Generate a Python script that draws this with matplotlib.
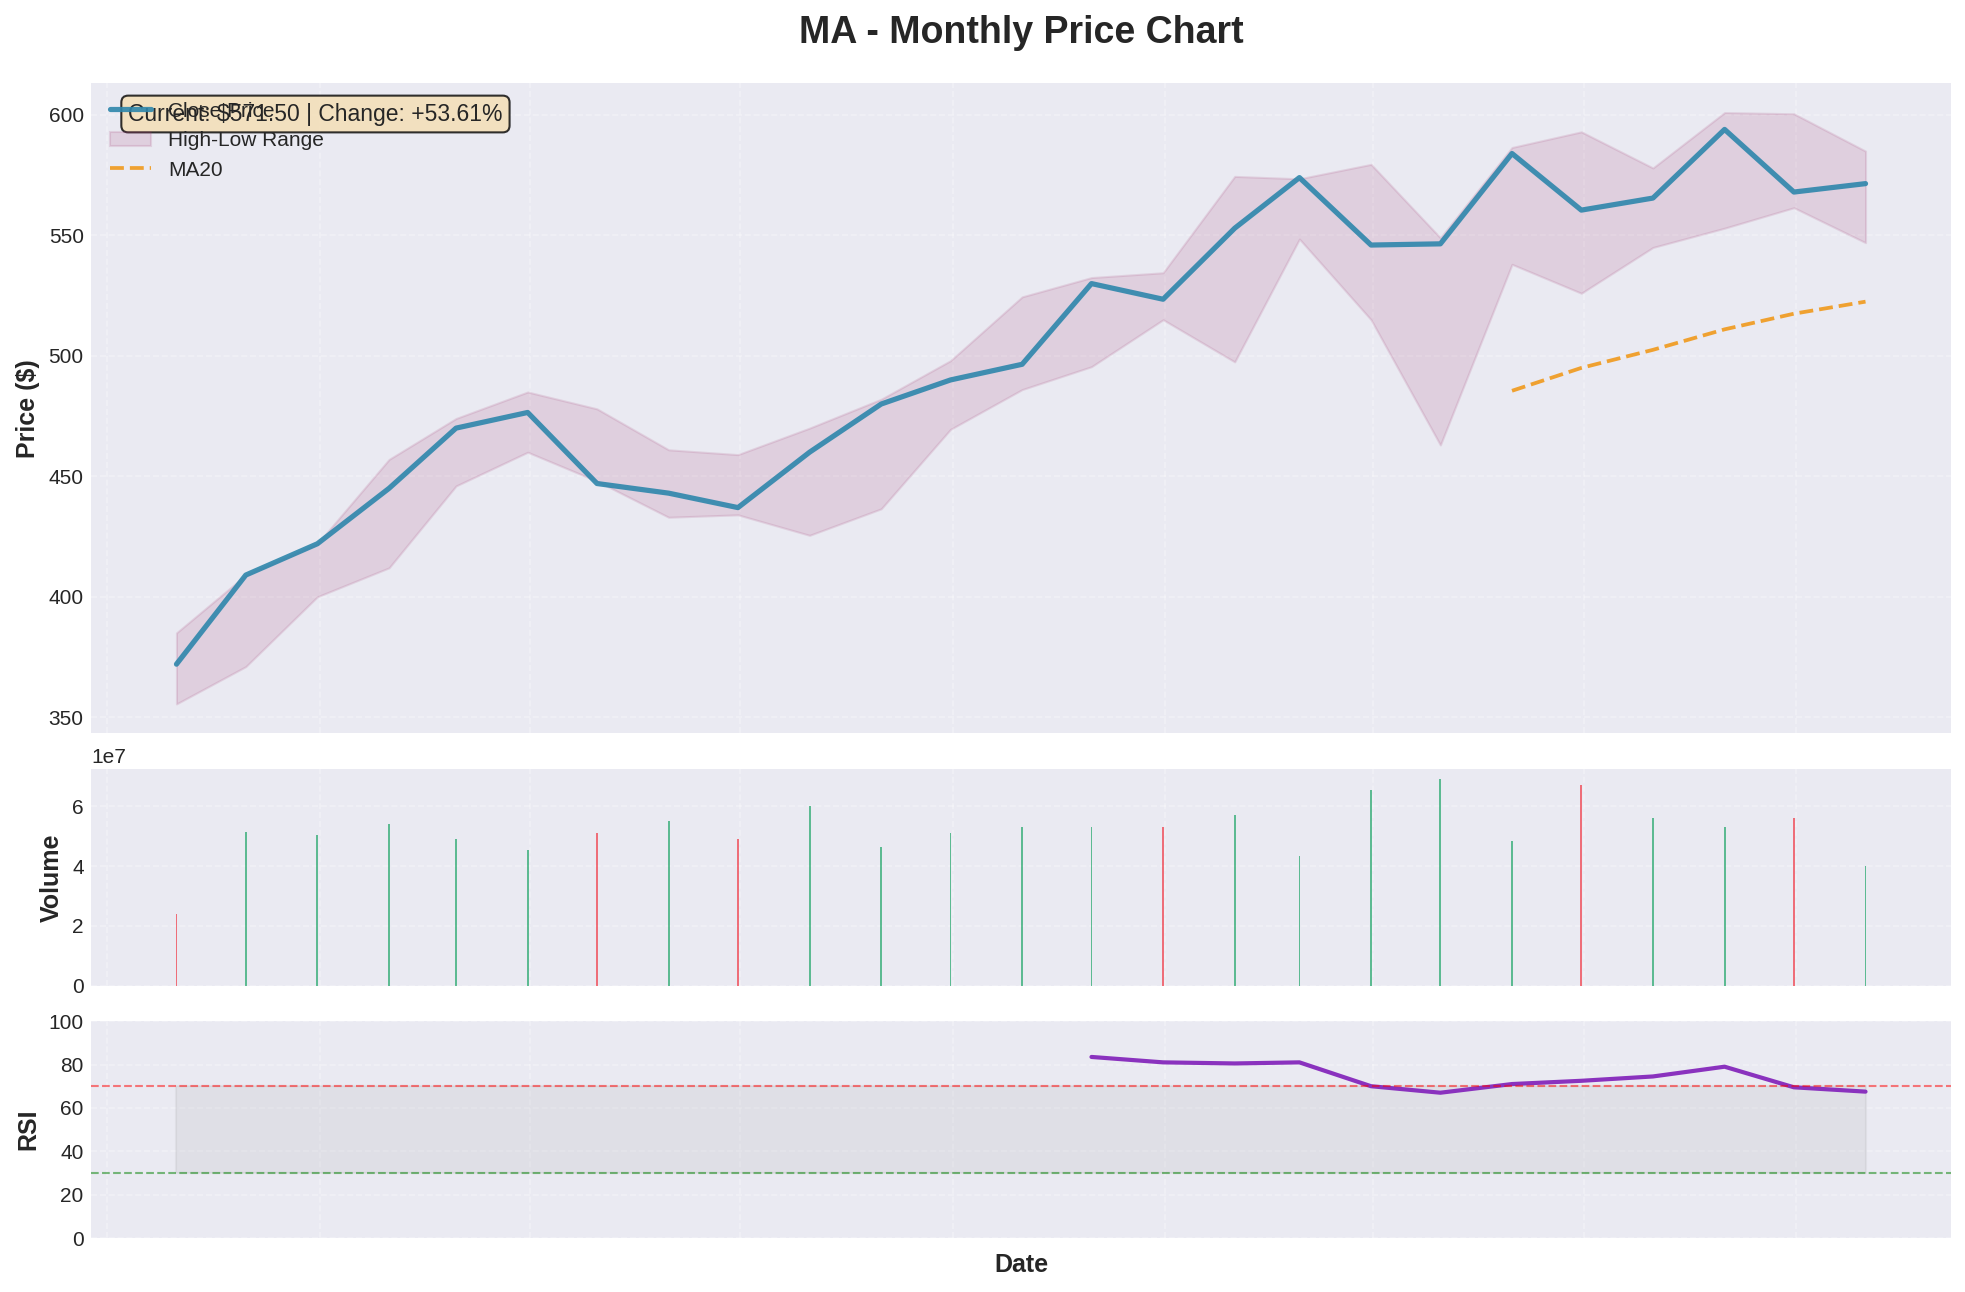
import pandas as pd
import matplotlib
matplotlib.use('Agg')
import matplotlib.pyplot as plt
import matplotlib.dates as mdates

# monthly data
dates = pd.date_range('2023-10-31', periods=25, freq='ME')
close = [372, 409, 422, 445, 470, 476.5, 447, 443, 437, 460, 480, 490, 496.5,
         530, 523.5, 553, 574, 546, 546.5, 584, 560.5, 565.5, 594, 568, 571.5]
high = [385, 409, 422, 457, 474, 485, 478, 461, 459, 470, 482, 498, 524.5,
        532.5, 534.5, 574.5, 573.5, 579.5, 549, 586.5, 593, 578, 601, 600.5, 585]
low = [355.5, 371, 400, 412, 446, 460, 448, 433, 434, 425.5, 436.5, 469.5, 486,
       495.5, 515, 497.5, 548.5, 515, 463, 538, 526, 545, 553, 561.5, 547]
ma20 = [485.5, 495, 502.5, 511, 517.5, 522.5]
volume = [2.4e7, 5.15e7, 5.05e7, 5.4e7, 4.9e7, 4.55e7, 5.1e7, 5.5e7, 4.9e7, 6.0e7,
          4.65e7, 5.1e7, 5.3e7, 5.3e7, 5.3e7, 5.7e7, 4.35e7, 6.55e7, 6.9e7, 4.85e7,
          6.7e7, 5.6e7, 5.3e7, 5.6e7, 4.0e7]
is_down = [1, 0, 0, 0, 0, 0, 1, 0, 1, 0, 0, 0, 0, 0, 1, 0, 0, 0, 0, 0, 1, 0, 0, 1, 0]
rsi = [83.5, 81, 80.5, 81, 70, 67, 71, 72.5, 74.5, 79, 69.5, 67.5]

plt.style.use('seaborn-v0_8-darkgrid')
plt.rcParams['font.family'] = ['Liberation Sans', 'DejaVu Sans']

fig, (ax1, ax2, ax3) = plt.subplots(3, 1, figsize=(13.1, 8.6134), dpi=150, sharex=True,
                                    gridspec_kw={'height_ratios': [3, 1, 1], 'hspace': 0.098,
                                                 'left': 91/1965, 'right': 1951/1965,
                                                 'top': 1 - 83/1292, 'bottom': 1 - 1238/1292})

# price panel
ax1.plot(dates, close, color='#2E86AB', linewidth=2.5, label='Close Price', alpha=0.9)
ax1.fill_between(dates, low, high, color='#A23B72', alpha=0.15, label='High-Low Range')
ax1.plot(dates[19:], ma20, color='#F18F01', linewidth=1.8, linestyle='--', label='MA20', alpha=0.8)
ax1.set_title('MA - Monthly Price Chart', fontsize=18, fontweight='bold', pad=19)
ax1.set_ylabel('Price ($)', fontsize=12, fontweight='bold')
ax1.legend(loc='upper left', fontsize=10)
ax1.grid(True, alpha=0.3, linestyle='--')
ax1.text(0.02, 0.97, 'Current: $571.50 | Change: +53.61%', transform=ax1.transAxes, fontsize=11,
         va='top', bbox=dict(boxstyle='round', facecolor='wheat', alpha=0.8, edgecolor='black'))

# volume panel
colors = ['#F21C28' if d else '#009B52' for d in is_down]
ax2.bar(dates, volume, color=colors, alpha=0.6)
ax2.set_ylabel('Volume', fontsize=12, fontweight='bold')
ax2.grid(True, alpha=0.3, linestyle='--')

# rsi panel
ax3.plot(dates[13:], rsi, color='#8A32BE', linewidth=2)
ax3.axhline(70, color='r', linestyle='--', linewidth=1, alpha=0.5)
ax3.axhline(30, color='g', linestyle='--', linewidth=1, alpha=0.5)
ax3.fill_between(dates, 30, 70, color='gray', alpha=0.1)
ax3.set_ylabel('RSI', fontsize=12, fontweight='bold')
ax3.set_xlabel('Date', fontsize=12, fontweight='bold', labelpad=7)
ax3.set_ylim(0, 100)
ax3.grid(True, alpha=0.3, linestyle='--')

ax3.xaxis.set_major_locator(mdates.MonthLocator(bymonth=[1, 4, 7, 10]))
plt.setp(ax3.get_xticklabels(), visible=False)

plt.savefig('out.png', dpi=150)
